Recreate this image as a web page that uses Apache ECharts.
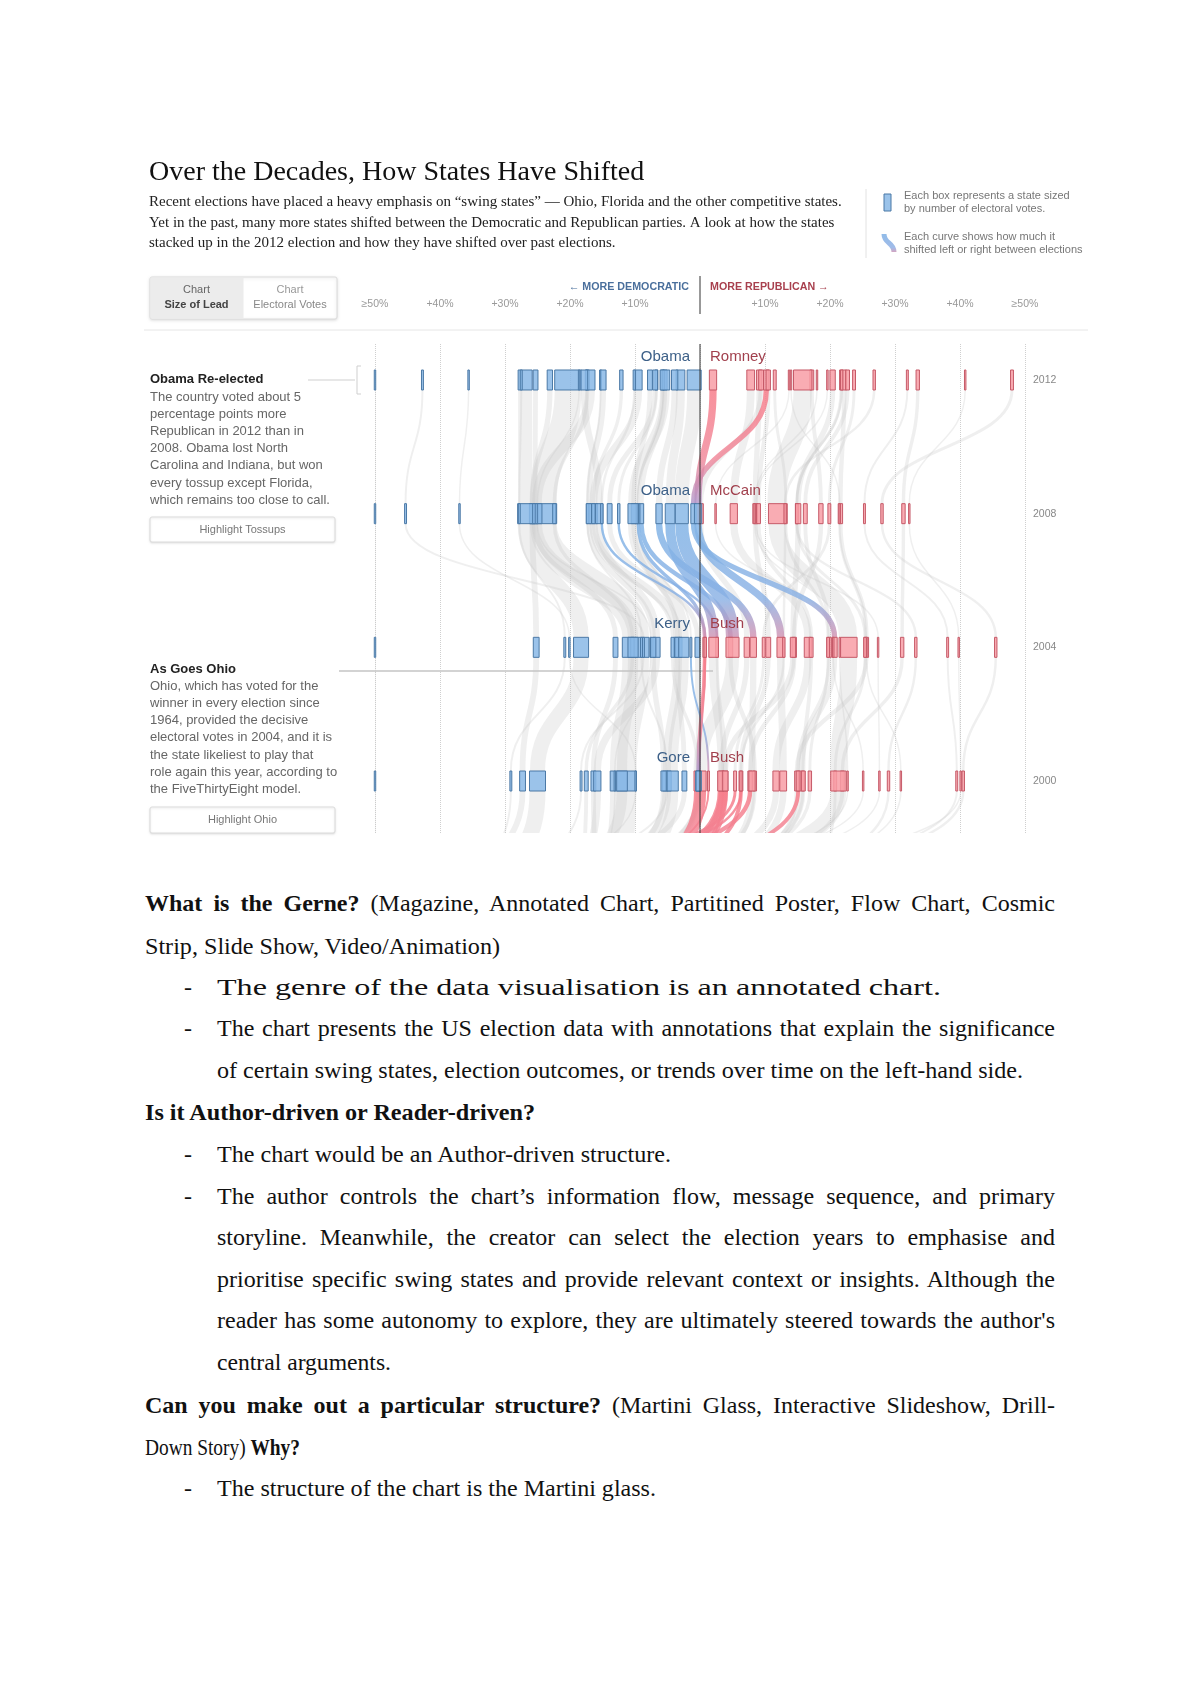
<!DOCTYPE html>
<html>
<head>
<meta charset="utf-8">
<script src="https://cdn.jsdelivr.net/npm/echarts@6/dist/echarts.min.js"></script>
<style>
html, body { margin: 0; padding: 0; background: #fff; }
#page { position: relative; width: 1200px; height: 1696px; overflow: hidden; }
#chart { position: absolute; left: 0; top: 0; width: 1200px; height: 850px; }
.ln { position: absolute; white-space: nowrap; font-family: "Liberation Serif", "Times New Roman", serif; font-size: 24px; line-height: 28px; color: #111; }
.j { text-align: justify; text-align-last: justify; }
</style>
</head>
<body>
<div id="page">
  <div id="chart"></div>

  <div class="ln j" style="left:145px;top:889px;width:910px"><b>What is the Gerne?</b> (Magazine, Annotated Chart, Partitined Poster, Flow Chart, Cosmic</div>
  <div class="ln" data-fit="355" style="left:145px;top:932px">Strip, Slide Show, Video/Animation)</div>
  <div class="ln" style="left:184px;top:973px">-</div>
  <div class="ln" data-fit="724" style="left:217px;top:973px">The genre of the data visualisation is an annotated chart.</div>
  <div class="ln" style="left:184px;top:1014px">-</div>
  <div class="ln j" style="left:217px;top:1014px;width:838px">The chart presents the US election data with annotations that explain the significance</div>
  <div class="ln" data-fit="806" style="left:217px;top:1056px">of certain swing states, election outcomes, or trends over time on the left-hand side.</div>
  <div class="ln" data-fit="390" style="left:145px;top:1098px"><b>Is it Author-driven or Reader-driven?</b></div>
  <div class="ln" style="left:184px;top:1140px">-</div>
  <div class="ln" data-fit="454" style="left:217px;top:1140px">The chart would be an Author-driven structure.</div>
  <div class="ln" style="left:184px;top:1182px">-</div>
  <div class="ln j" style="left:217px;top:1182px;width:838px">The author controls the chart’s information flow, message sequence, and primary</div>
  <div class="ln j" style="left:217px;top:1223px;width:838px">storyline. Meanwhile, the creator can select the election years to emphasise and</div>
  <div class="ln j" style="left:217px;top:1265px;width:838px">prioritise specific swing states and provide relevant context or insights. Although the</div>
  <div class="ln j" style="left:217px;top:1306px;width:838px">reader has some autonomy to explore, they are ultimately steered towards the author's</div>
  <div class="ln" data-fit="174" style="left:217px;top:1348px">central arguments.</div>
  <div class="ln j" style="left:145px;top:1391px;width:910px"><b>Can you make out a particular structure?</b> (Martini Glass, Interactive Slideshow, Drill-</div>
  <div class="ln" data-fit="155" style="left:145px;top:1433px">Down Story) <b>Why?</b></div>
  <div class="ln" style="left:184px;top:1474px">-</div>
  <div class="ln" data-fit="439" style="left:217px;top:1474px">The structure of the chart is the Martini glass.</div>
</div>

<script>
// states in alphabetical order of postal code
const states = ['AL','AK','AZ','AR','CA','CO','CT','DE','DC','FL','GA','HI','ID','IL','IN','IA','KS','KY','LA','ME',
  'MD','MA','MI','MN','MS','MO','MT','NE','NV','NH','NJ','NM','NY','NC','ND','OH','OK','OR','PA','RI',
  'SC','SD','TN','TX','UT','VT','VA','WA','WV','WI','WY']

// lead in points, + = Republican, - = Democratic
const margin2012 = [22.2,14.0,9.1,23.7,-20.3,-5.4,-17.3,-18.6,-83.6,-0.9,7.8,-42.7,31.9,-16.9,10.2,-5.8,21.7,22.7,17.2,-15.3,
  -25.3,-23.1,-9.5,-7.7,11.5,9.4,13.7,21.8,-6.7,-5.6,-17.8,-10.1,-26.9,2.0,19.6,-3.0,33.5,-12.1,-5.4,-27.5,
  10.5,18.0,20.4,15.8,48.0,-35.6,-3.9,-14.9,26.8,-6.9,40.8]
const margin2008 = [21.6,21.5,8.5,19.9,-24.1,-9.0,-22.4,-25.0,-85.9,-2.8,5.2,-45.3,25.3,-25.1,-1.0,-9.5,14.9,16.2,18.6,-17.3,
  -25.4,-25.8,-16.4,-10.2,13.2,0.1,2.4,14.9,-12.5,-9.6,-15.5,-15.1,-26.9,-0.3,8.6,-4.6,31.3,-16.4,-10.3,-27.8,
  9.0,8.4,15.1,11.8,28.0,-37.0,-6.3,-17.1,13.1,-13.9,32.2]
const margin2004 = [25.6,25.6,10.5,9.8,-9.9,4.7,-10.4,-7.6,-79.8,5.0,16.6,-8.7,38.1,-10.3,20.7,0.7,25.4,19.9,14.5,-9.0,
  -13.0,-25.2,-3.4,-3.5,19.7,7.2,20.5,33.2,2.6,-1.4,-6.7,0.8,-18.3,12.4,27.4,2.1,31.1,-4.2,-2.5,-20.8,
  17.1,21.5,14.3,22.9,45.5,-20.1,8.2,-7.2,12.9,-0.4,39.8]
const margin2000 = [14.9,30.9,6.3,5.4,-11.8,8.4,-17.5,-13.1,-76.2,0.01,11.7,-18.3,39.5,-12.0,15.6,-0.3,20.8,15.1,7.7,-5.1,
  -16.4,-27.3,-5.1,-2.4,16.9,3.3,25.1,29.0,3.5,1.3,-15.8,-0.1,-25.0,12.8,27.6,3.5,21.9,-0.4,-4.2,-29.1,
  15.9,22.7,3.9,21.3,40.5,-9.9,8.0,-5.6,6.3,-0.2,40.1]
const margin1996 = [6.9,17.5,-2.2,-16.9,-12.9,1.4,-18.1,-15.2,-76.0,-5.7,1.2,-25.3,18.5,-17.5,5.6,-10.3,18.2,-1.0,-12.1,-20.9,
  -16.0,-33.4,-13.2,-16.1,5.1,-6.3,2.9,18.7,-1.0,-9.9,-17.9,-7.3,-28.9,4.7,6.8,-6.4,7.8,-8.1,-9.2,-33.0,
  6.0,3.5,-2.4,4.9,21.1,-22.3,2.0,-12.5,-14.8,-10.3,12.8]

// electoral votes
const ev2012 = [9,3,11,6,55,9,7,3,3,29,16,4,4,20,11,6,6,8,8,4,10,11,16,10,6,10,3,5,6,4,14,5,29,15,3,18,7,7,20,4,9,3,11,38,6,3,13,12,5,10,3]
const ev2008 = [9,3,10,6,55,9,7,3,3,27,15,4,4,21,11,7,6,8,9,4,10,12,17,10,6,11,3,5,5,4,15,5,31,15,3,20,7,7,21,4,8,3,11,34,5,3,13,11,5,10,3]
const ev2004 = [9,3,10,6,55,9,7,3,3,27,15,4,4,21,11,7,6,8,9,4,10,12,17,10,6,11,3,5,5,4,15,5,31,15,3,20,7,7,21,4,8,3,11,34,5,3,13,11,5,10,3]
const ev2000 = [9,3,8,6,54,8,8,3,3,25,13,4,4,22,12,7,6,8,9,4,10,12,18,10,7,11,3,5,4,4,15,5,33,14,3,21,8,7,23,4,8,3,11,32,5,3,13,11,5,11,3]

const years = [2012, 2008, 2004, 2000]
const candidates = [['Obama', 'Romney'], ['Obama', 'McCain'], ['Kerry', 'Bush'], ['Gore', 'Bush']]
const tickLabels = ['≥50%', '+40%', '+30%', '+20%', '+10%', '', '+10%', '+20%', '+30%', '+40%', '≥50%']

const EV_W = 0.0746 // lead points per electoral vote (box width)
const BOX_H = 20
const Y_MAX = 2013.077
const Y_MIN = 1998.444

const rows = [
  { year: 2012, m: margin2012, ev: ev2012 },
  { year: 2008, m: margin2008, ev: ev2008 },
  { year: 2004, m: margin2004, ev: ev2004 },
  { year: 2000, m: margin2000, ev: ev2000 },
  { year: 1996, m: margin1996, ev: ev2000 }
]
const clamp = (v) => Math.max(-50, Math.min(50, v))

const boxData = []
rows.slice(0, 4).forEach(r => {
  r.m.forEach((v, i) => boxData.push([clamp(v), r.year, r.ev[i], v > 0 ? 1 : 0]))
})

const greyFlows = []
const colorFlows = []
for (let k = 0; k < 4; k++) {
  const a = rows[k], b = rows[k + 1]
  a.m.forEach((v, i) => {
    const w = b.m[i]
    let flag = 0
    if (v > 0 && w < 0) flag = 1
    if (v < 0 && w > 0) flag = 2
    const item = [clamp(v), a.year, clamp(w), b.year, a.ev[i], flag]
    if (flag) colorFlows.push(item)
    else greyFlows.push(item)
  })
}

const RED_FILL = 'rgba(248,158,166,0.85)'
const RED_LINE = '#c65a68'
const BLUE_FILL = 'rgba(138,184,230,0.85)'
const BLUE_LINE = '#4b79a6'

const renderFlow = (params, api) => {
  const a = api.coord([api.value(0), api.value(1)])
  const b = api.coord([api.value(2), api.value(3)])
  const w = api.size([api.value(4) * EV_W, 0])[0]
  const y1 = a[1] + BOX_H / 2
  const y2 = b[1] - BOX_H / 2
  const mid = (y2 - y1) * 0.5
  const flag = api.value(5)
  let stroke = 'rgba(196,196,196,0.28)'
  if (flag === 1) {
    stroke = new echarts.graphic.LinearGradient(0, 0, 0, 1, [
      { offset: 0, color: 'rgba(247,125,138,0.85)' },
      { offset: 0.6, color: 'rgba(240,132,150,0.8)' },
      { offset: 1, color: 'rgba(170,150,205,0.8)' }
    ])
  } else if (flag === 2) {
    stroke = new echarts.graphic.LinearGradient(0, 0, 0, 1, [
      { offset: 0, color: 'rgba(130,180,230,0.85)' },
      { offset: 0.65, color: 'rgba(135,175,228,0.8)' },
      { offset: 1, color: 'rgba(215,140,170,0.8)' }
    ])
  }
  return {
    type: 'bezierCurve',
    shape: { x1: a[0], y1: y1, x2: b[0], y2: y2, cpx1: a[0], cpy1: y1 + mid, cpx2: b[0], cpy2: y2 - mid },
    style: { stroke: stroke, lineWidth: Math.max(w, 1), fill: null }
  }
}

const renderBox = (params, api) => {
  const p = api.coord([api.value(0), api.value(1)])
  const w = api.size([api.value(2) * EV_W, 0])[0]
  const rep = api.value(3) === 1
  return {
    type: 'rect',
    shape: { x: p[0] - w / 2, y: p[1] - BOX_H / 2, width: w, height: BOX_H },
    style: { fill: rep ? RED_FILL : BLUE_FILL, stroke: rep ? RED_LINE : BLUE_LINE, lineWidth: 1 }
  }
}

const renderLabels = (params, api) => {
  const y = api.value(0)
  const c = api.coord([0, y])
  const r = api.coord([50, y])
  const names = candidates[params.dataIndex]
  return {
    type: 'group',
    children: [
      { type: 'text', x: c[0] - 10, y: c[1] - 23, style: { text: names[0], fill: '#3d6088', font: '15px "Liberation Sans", Arial, sans-serif', align: 'right', verticalAlign: 'middle' } },
      { type: 'text', x: c[0] + 10, y: c[1] - 23, style: { text: names[1], fill: '#a1404d', font: '15px "Liberation Sans", Arial, sans-serif', align: 'left', verticalAlign: 'middle' } },
      { type: 'text', x: r[0] + 8, y: c[1], style: { text: String(y), fill: '#888', font: '10.5px "Liberation Sans", Arial, sans-serif', align: 'left', verticalAlign: 'middle' } }
    ]
  }
}

const sans = '"Liberation Sans", Arial, sans-serif'
const serif = '"Liberation Serif", "Times New Roman", serif'
const txt = (x, y, text, font, fill, align) => ({
  type: 'text', x: x, y: y, silent: true,
  style: { text: text, font: font, fill: fill, align: align || 'left', verticalAlign: 'middle' }
})

const obamaNote = ['The country voted about 5', 'percentage points more', 'Republican in 2012 than in', '2008. Obama lost North',
  'Carolina and Indiana, but won', 'every tossup except Florida,', 'which remains too close to call.']
const ohioNote = ['Ohio, which has voted for the', 'winner in every election since', '1964, provided the decisive',
  'electoral votes in 2004, and it is', 'the state likeliest to play that', 'role again this year, according to', 'the FiveThirtyEight model.']

const graphics = [
  txt(149, 173, 'Over the Decades, How States Have Shifted', '28px ' + serif, '#111'),
  txt(149, 202, 'Recent elections have placed a heavy emphasis on “swing states” — Ohio, Florida and the other competitive states.', '15px ' + serif, '#222'),
  txt(149, 223, 'Yet in the past, many more states shifted between the Democratic and Republican parties. A look at how the states', '15px ' + serif, '#222'),
  txt(149, 243, 'stacked up in the 2012 election and how they have shifted over past elections.', '15px ' + serif, '#222'),
  // legend
  { type: 'line', silent: true, shape: { x1: 866, y1: 189, x2: 866, y2: 258 }, style: { stroke: '#e2e2e2', lineWidth: 1 } },
  { type: 'rect', silent: true, shape: { x: 884, y: 194, width: 7, height: 17 }, style: { fill: BLUE_FILL, stroke: BLUE_LINE, lineWidth: 1 } },
  txt(904, 196, 'Each box represents a state sized', '11px ' + sans, '#777'),
  txt(904, 209, 'by number of electoral votes.', '11px ' + sans, '#777'),
  {
    type: 'bezierCurve', silent: true,
    shape: { x1: 884, y1: 234, x2: 894, y2: 252, cpx1: 884, cpy1: 244, cpx2: 894, cpy2: 242 },
    style: {
      lineWidth: 5, fill: null,
      stroke: new echarts.graphic.LinearGradient(0, 0, 0, 1, [
        { offset: 0, color: 'rgba(130,180,230,0.9)' }, { offset: 0.7, color: 'rgba(150,180,230,0.9)' }, { offset: 1, color: 'rgba(240,140,160,0.9)' }
      ])
    }
  },
  txt(904, 237, 'Each curve shows how much it', '11px ' + sans, '#777'),
  txt(904, 250, 'shifted left or right between elections', '11px ' + sans, '#777'),
  // buttons
  { type: 'rect', silent: true, shape: { x: 150, y: 277, width: 187, height: 42, r: 2 }, style: { fill: '#fff', stroke: '#dcdcdc', lineWidth: 1, shadowBlur: 3, shadowOffsetY: 1, shadowColor: 'rgba(0,0,0,0.12)' } },
  { type: 'rect', silent: true, shape: { x: 150.5, y: 277.5, width: 93, height: 41 }, style: { fill: '#ececec' } },
  txt(196.5, 290, 'Chart', '11px ' + sans, '#666', 'center'),
  txt(196.5, 305, 'Size of Lead', 'bold 11px ' + sans, '#444', 'center'),
  txt(290, 290, 'Chart', '11px ' + sans, '#999', 'center'),
  txt(290, 305, 'Electoral Votes', '11px ' + sans, '#888', 'center'),
  txt(689, 287, '← MORE DEMOCRATIC', 'bold 10.7px ' + sans, '#4a6f9c', 'right'),
  txt(710, 287, 'MORE REPUBLICAN →', 'bold 10.7px ' + sans, '#a8404e'),
  { type: 'line', silent: true, shape: { x1: 700, y1: 276, x2: 700, y2: 314 }, style: { stroke: '#333', lineWidth: 1 } },
  { type: 'line', silent: true, shape: { x1: 144, y1: 330, x2: 1088, y2: 330 }, style: { stroke: '#e6e6e6', lineWidth: 1 } },
  // annotations
  txt(150, 379, 'Obama Re-elected', 'bold 13px ' + sans, '#222'),
  { type: 'line', silent: true, shape: { x1: 308, y1: 380, x2: 355, y2: 380 }, style: { stroke: '#cfcfcf', lineWidth: 1 } },
  { type: 'polyline', silent: true, shape: { points: [[361, 366], [357, 366], [357, 394], [361, 394]] }, style: { stroke: '#cfcfcf', lineWidth: 1, fill: null } },
  { type: 'rect', silent: true, shape: { x: 150, y: 517, width: 185, height: 25, r: 2 }, style: { fill: '#fff', stroke: '#dcdcdc', lineWidth: 1, shadowBlur: 2, shadowOffsetY: 1, shadowColor: 'rgba(0,0,0,0.1)' } },
  txt(242.5, 530, 'Highlight Tossups', '11px ' + sans, '#777', 'center'),
  txt(150, 669, 'As Goes Ohio', 'bold 13px ' + sans, '#222'),
  { type: 'line', silent: true, shape: { x1: 339, y1: 671, x2: 713, y2: 671 }, style: { stroke: '#c4c4c4', lineWidth: 1.5 } },
  { type: 'rect', silent: true, shape: { x: 150, y: 807, width: 185, height: 26, r: 2 }, style: { fill: '#fff', stroke: '#dcdcdc', lineWidth: 1, shadowBlur: 2, shadowOffsetY: 1, shadowColor: 'rgba(0,0,0,0.1)' } },
  txt(242.5, 820, 'Highlight Ohio', '11px ' + sans, '#777', 'center')
]
obamaNote.forEach((s, i) => graphics.push(txt(150, 397 + i * 17.2, s, '13px ' + sans, '#666')))
ohioNote.forEach((s, i) => graphics.push(txt(150, 686 + i * 17.3, s, '13px ' + sans, '#666')))

const chart = echarts.init(document.getElementById('chart'))
chart.setOption({
  animation: false,
  backgroundColor: '#fff',
  grid: { left: 375, right: 175, top: 344, bottom: 17 },
  xAxis: {
    type: 'value', position: 'top', min: -50, max: 50, interval: 10,
    axisLine: { show: false }, axisTick: { show: false },
    axisLabel: { margin: 34, color: '#999', fontSize: 10.5, fontFamily: sans, formatter: (v) => tickLabels[Math.round((v + 50) / 10)] },
    splitLine: { show: true, lineStyle: { color: '#cfcfcf', type: 'dotted', width: 1 } }
  },
  yAxis: { type: 'value', min: Y_MIN, max: Y_MAX, show: false },
  graphic: graphics,
  series: [
    { type: 'custom', name: 'flows', clip: true, silent: true, data: greyFlows, renderItem: renderFlow, z: 1 },
    { type: 'custom', name: 'switched', clip: true, silent: true, data: colorFlows, renderItem: renderFlow, z: 2 },
    { type: 'custom', name: 'states', silent: true, data: boxData, renderItem: renderBox, z: 3 },
    {
      type: 'line', silent: true, symbol: 'none', z: 4,
      data: [[0, Y_MAX], [0, Y_MIN]],
      lineStyle: { color: '#333', width: 1 }
    },
    { type: 'custom', name: 'labels', silent: true, data: years.map(y => [y]), encode: { y: 0 }, renderItem: renderLabels, z: 5 }
  ]
})

// stretch or squeeze unjustified lines to the measured widths
const fitLines = () => {
  document.querySelectorAll('.ln[data-fit]').forEach(el => {
    el.style.transform = 'none'
    const target = +el.dataset.fit
    const w = el.getBoundingClientRect().width
    el.style.transformOrigin = '0 0'
    el.style.transform = 'scaleX(' + (target / w) + ')'
  })
}
fitLines()
if (document.fonts) document.fonts.ready.then(fitLines)
</script>
</body>
</html>
